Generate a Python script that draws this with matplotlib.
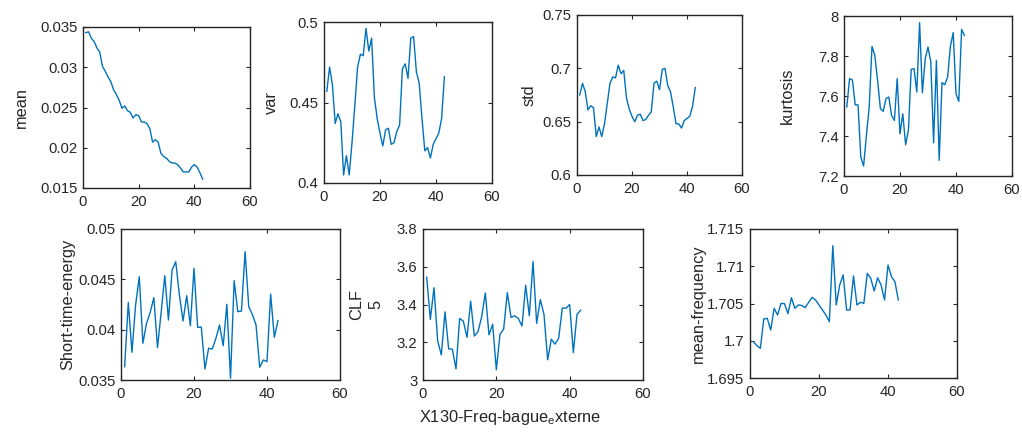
import numpy as np
import matplotlib
matplotlib.use("Agg")
import matplotlib.pyplot as plt
from matplotlib.ticker import FixedLocator, FuncFormatter

plt.rcParams['font.family'] = ['Liberation Sans', 'DejaVu Sans']
plt.rcParams['mathtext.fontset'] = 'custom'
plt.rcParams['mathtext.rm'] = 'Liberation Sans'

# ---------------- data ----------------
samples = np.arange(1, 44)

mean_vals = [0.0343, 0.0344, 0.0336, 0.0332, 0.0324, 0.0319, 0.0301, 0.0295, 0.0288, 0.0282,
             0.0272, 0.0266, 0.0259, 0.0249, 0.0252, 0.0246, 0.0244, 0.0237, 0.0241, 0.0240,
             0.0232, 0.0232, 0.0230, 0.0224, 0.0207, 0.0210, 0.0207, 0.0193, 0.0189, 0.0187,
             0.0183, 0.0181, 0.0181, 0.0179, 0.0175, 0.0170, 0.0170, 0.0170, 0.0176, 0.0179,
             0.0176, 0.0169, 0.0161]

var_vals = [0.457, 0.472, 0.461, 0.437, 0.443, 0.438, 0.405, 0.417, 0.405, 0.425,
            0.448, 0.472, 0.480, 0.479, 0.496, 0.482, 0.490, 0.453, 0.440, 0.431,
            0.423, 0.433, 0.434, 0.424, 0.425, 0.432, 0.436, 0.471, 0.474, 0.465,
            0.490, 0.491, 0.469, 0.462, 0.440, 0.420, 0.422, 0.4155, 0.424, 0.4275,
            0.431, 0.440, 0.466]

std_vals = [0.675, 0.686, 0.678, 0.661, 0.665, 0.663, 0.636, 0.645, 0.636, 0.648,
            0.667, 0.686, 0.692, 0.691, 0.703, 0.695, 0.698, 0.672, 0.662, 0.655,
            0.650, 0.656, 0.657, 0.651, 0.652, 0.656, 0.659, 0.686, 0.688, 0.680,
            0.699, 0.700, 0.684, 0.678, 0.664, 0.648, 0.648, 0.644, 0.651, 0.653,
            0.655, 0.664, 0.682]

kurt_vals = [7.545, 7.687, 7.680, 7.556, 7.556, 7.295, 7.250, 7.403, 7.545, 7.848,
             7.803, 7.678, 7.537, 7.523, 7.587, 7.595, 7.503, 7.478, 7.687, 7.411,
             7.511, 7.356, 7.428, 7.733, 7.737, 7.620, 7.967, 7.616, 7.787, 7.845,
             7.770, 7.366, 7.778, 7.278, 7.667, 7.656, 7.695, 7.848, 7.917, 7.611,
             7.573, 7.933, 7.903]

ste_vals = [0.03632, 0.04271, 0.03775, 0.04245, 0.04526, 0.03865, 0.04063, 0.04172, 0.04318, 0.03821,
            0.04172, 0.04536, 0.04096, 0.04593, 0.04675, 0.04344, 0.04086, 0.04337, 0.04040, 0.04610,
            0.04023, 0.04026, 0.03609, 0.03815, 0.03808, 0.03914, 0.04046, 0.03841, 0.04252, 0.03517,
            0.04487, 0.04179, 0.04185, 0.04775, 0.04228, 0.04150, 0.04046, 0.03626, 0.03699, 0.03682,
            0.04354, 0.03924, 0.04089]

clf_vals = [3.545, 3.321, 3.489, 3.207, 3.133, 3.361, 3.165, 3.163, 3.059, 3.326,
            3.312, 3.226, 3.417, 3.233, 3.256, 3.335, 3.461, 3.239, 3.295, 3.054,
            3.242, 3.270, 3.463, 3.332, 3.340, 3.326, 3.286, 3.502, 3.340, 3.628,
            3.300, 3.426, 3.347, 3.107, 3.216, 3.190, 3.221, 3.382, 3.380, 3.400,
            3.145, 3.347, 3.370]

mf_vals = [1.69987, 1.69934, 1.69898, 1.70292, 1.70301, 1.70144, 1.70435, 1.70346, 1.70502, 1.70497,
           1.70363, 1.70578, 1.70435, 1.70480, 1.70474, 1.70444, 1.70516, 1.70583, 1.70547, 1.70480,
           1.70413, 1.70346, 1.70256, 1.71276, 1.70480, 1.70748, 1.70883, 1.70413, 1.70413, 1.70869,
           1.70480, 1.70516, 1.70502, 1.70905, 1.70838, 1.70668, 1.70846, 1.70748, 1.70547, 1.71017,
           1.70860, 1.70793, 1.70547]

x_ticks = [0, 20, 40, 60]
mean_ticks = [0.015, 0.02, 0.025, 0.03, 0.035]
var_ticks = [0.4, 0.45, 0.5]
std_ticks = [0.6, 0.65, 0.7, 0.75]
kurt_ticks = [7.2, 7.4, 7.6, 7.8, 8.0]
ste_ticks = [0.035, 0.04, 0.045, 0.05]
clf_ticks = [3.0, 3.2, 3.4, 3.6, 3.8]
mf_ticks = [1.695, 1.7, 1.705, 1.71, 1.715]

labels = ['mean', 'var', 'std', 'kurtosis', 'Short-time-energy', 'CLF\n5', 'mean-frequency']
xlabel_text = r'X130-Freq-bague$_\mathregular{e}$xterne'

# ---------------- layout (pixels: left, top, right, bottom) ----------------
W, H = 1022, 432
boxes = [(83, 27, 250, 188), (324, 22, 492, 183), (577, 15, 742, 175), (844, 16, 1012, 176),
         (121, 229, 340, 380), (423, 229, 643, 380), (750, 229, 957, 378)]
label_x_px = [28.5, 278.5, 537, 794.5, 75.5, 383.5, 705.5]

series = [mean_vals, var_vals, std_vals, kurt_vals, ste_vals, clf_vals, mf_vals]
yticks = [mean_ticks, var_ticks, std_ticks, kurt_ticks, ste_ticks, clf_ticks, mf_ticks]

EDGE = '#262626'
LINE = '#0072BD'

fig = plt.figure(figsize=(W / 100, H / 100), dpi=100)
fmt = FuncFormatter(lambda v, p: '%g' % v)

axes = []
for (l, t, r, b), ys, yt, lab, lx in zip(boxes, series, yticks, labels, label_x_px):
    ax = fig.add_axes([l / W, 1 - b / H, (r - l) / W, (b - t) / H])
    ax.plot(samples, ys, color=LINE, lw=1.0)
    ax.set_xlim(x_ticks[0], x_ticks[-1])
    ax.set_ylim(yt[0], yt[-1])
    ax.xaxis.set_major_locator(FixedLocator(x_ticks))
    ax.yaxis.set_major_locator(FixedLocator(yt))
    ax.xaxis.set_major_formatter(fmt)
    ax.yaxis.set_major_formatter(fmt)
    ax.tick_params(direction='in', length=3, width=0.8, colors=EDGE, labelsize=10.7,
                   top=True, right=True, labelcolor=EDGE)
    ax.tick_params(axis='y', pad=4)
    ax.tick_params(axis='x', pad=5)
    for s in ax.spines.values():
        s.set_color(EDGE)
        s.set_linewidth(1.0)
    ax.set_ylabel(lab, fontsize=11.8, color=EDGE, linespacing=1.35)
    ax.yaxis.set_label_coords((lx - l) / (r - l), 0.5)
    axes.append(ax)

# x label under the CLF panel
ax5 = axes[5]
ax5.set_xlabel(xlabel_text, fontsize=11.8, color=EDGE)
l, t, r, b = boxes[5]
ax5.xaxis.set_label_coords((510 - l) / (r - l), -(408 - b) / (b - t))

fig.savefig('out.png', dpi=100)
